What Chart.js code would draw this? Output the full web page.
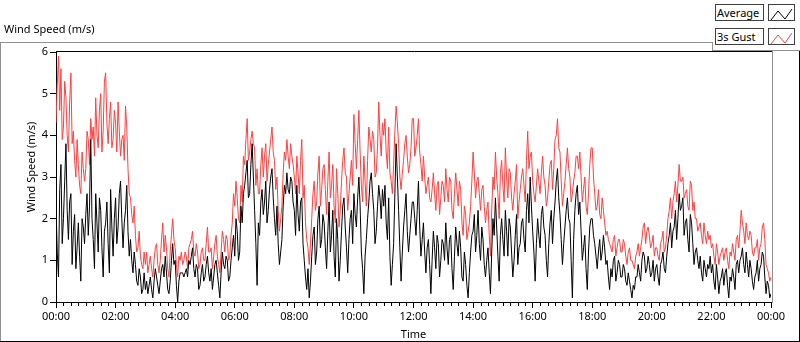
<!DOCTYPE html>
<html>
<head>
<meta charset="utf-8">
<script src="https://cdn.jsdelivr.net/npm/chart.js@4"></script>
<style>
  body { margin: 0; background: #fff; font-family: "Noto Sans", sans-serif; }
  #panel { position: relative; width: 800px; height: 342px; overflow: hidden; }
  #windChart { position: absolute; left: 0; top: 0; }
  .frame { position: absolute; }
  .title { position: absolute; left: 4px; top: 22px; font-size: 11px; line-height: 14px; color: #000; }
  .legend-text { position: absolute; left: 715px; width: 46px; height: 15px; border: 1px solid #404040;
    font-size: 11px; line-height: 15px; padding-left: 1px; color: #000; background: #fff; }
  .legend-icon { position: absolute; left: 768px; width: 25px; height: 15px; border: 1px solid #404040; background: #fff; }
</style>
</head>
<body>
<div id="panel">
  <canvas id="windChart" width="800" height="342"></canvas>
  <div class="title">Wind Speed (m/s)</div>
  <!-- outer panel lines -->
  <div class="frame" style="left:0;top:42px;width:712px;height:1px;background:#909090"></div>
  <div class="frame" style="left:0;top:42px;width:1px;height:300px;background:#909090"></div>
  <div class="frame" style="left:0;top:341px;width:800px;height:1px;background:#000"></div>
  <div class="frame" style="left:799px;top:50px;width:1px;height:292px;background:#000"></div>
  <div class="frame" style="left:712px;top:42px;width:1px;height:9px;background:#909090"></div>
  <div class="frame" style="left:712px;top:50px;width:88px;height:1px;background:#909090"></div>
  <!-- legend -->
  <div class="legend-text" style="top:4px">Average</div>
  <div class="legend-icon" style="top:4px">
    <svg width="25" height="15"><polyline points="2,13 9,4 16,12 23,2" fill="none" stroke="#000" stroke-width="1"/></svg>
  </div>
  <div class="legend-text" style="top:28px">3s Gust</div>
  <div class="legend-icon" style="top:28px">
    <svg width="25" height="15"><polyline points="2,13 9,4 16,12 23,2" fill="none" stroke="#ff4040" stroke-width="1"/></svg>
  </div>
</div>
<script>
// time axis: one sample every 2.5 minutes, 00:00 .. 24:00
const START_MINUTE = 0;
const STEP_MINUTES = 2.5;
const timeTicks = [0, 120, 240, 360, 480, 600, 720, 840, 960, 1080, 1200, 1320, 1440];
const tickLabels = ["00:00", "02:00", "04:00", "06:00", "08:00", "10:00", "12:00",
                    "14:00", "16:00", "18:00", "20:00", "22:00", "00:00"];
const speedTicks = [0, 1, 2, 3, 4, 5, 6];

// Average wind speed (m/s), one row per hour
const averageSpeed = [
  2.3, 1.2, 0.6, 2.7, 3.3, 1.4, 2.0, 2.9, 3.8, 2.2, 1.5, 2.4, 2.6, 0.9, 1.7, 2.1, 0.8, 1.3, 1.9, 1.1, 0.5, 2.0, 1.8, 1.4,
  2.1, 2.6, 1.6, 2.3, 3.9, 2.0, 1.5, 0.8, 2.6, 1.9, 1.2, 2.5, 2.2, 1.3, 0.6, 1.7, 1.9, 2.4, 1.4, 0.7, 2.7, 1.8, 1.1, 2.0,
  2.5, 1.4, 1.8, 2.6, 2.9, 2.0, 1.3, 1.9, 2.2, 2.8, 1.7, 1.1, 1.5, 1.0, 0.7, 1.2, 0.9, 0.5, 0.4, 0.8, 0.6, 0.2, 0.3, 0.7,
  0.3, 0.5, 0.2, 0.4, 0.6, 0.3, 0.1, 0.5, 0.8, 0.6, 0.4, 0.2, 0.5, 0.8, 0.9, 0.6, 1.1, 0.7, 0.3, 0.2, 0.5, 1.0, 1.4, 0.9,
  1.0, 0.4, 0.0, 0.5, 0.7, 0.7, 0.7, 0.6, 0.7, 0.8, 0.6, 1.0, 0.9, 1.1, 1.3, 0.8, 0.6, 0.9, 0.8, 0.3, 0.4, 0.7, 0.9, 0.5,
  0.6, 0.9, 1.1, 0.7, 0.5, 0.8, 0.3, 0.6, 0.9, 1.0, 0.7, 0.4, 0.1, 0.7, 1.2, 0.9, 0.8, 1.1, 1.0, 0.5, 0.6, 1.0, 1.3, 1.6,
  1.1, 2.0, 1.7, 1.0, 1.2, 2.3, 1.9, 2.6, 2.8, 3.1, 3.4, 2.5, 2.6, 3.3, 3.8, 3.0, 2.2, 1.4, 0.4, 1.9, 1.6, 2.4, 2.7, 2.1,
  2.4, 2.9, 1.9, 2.2, 2.7, 3.0, 3.2, 2.5, 2.0, 1.6, 2.3, 1.4, 0.9, 1.2, 1.5, 2.3, 2.8, 2.6, 3.1, 2.7, 2.6, 3.0, 2.9, 2.4,
  2.2, 1.6, 2.8, 2.1, 1.7, 2.4, 2.5, 1.4, 1.0, 0.6, 0.3, 0.8, 0.1, 0.5, 1.1, 1.6, 1.8, 0.9, 1.2, 2.0, 2.3, 1.3, 1.5, 2.1,
  1.9, 1.3, 0.8, 1.7, 2.4, 1.2, 1.6, 2.2, 1.1, 0.6, 2.0, 1.5, 0.5, 1.0, 1.7, 2.3, 2.5, 1.8, 1.3, 0.7, 1.5, 2.0, 2.2, 1.4,
  2.6, 2.1, 1.8, 2.5, 3.0, 2.3, 1.2, 0.8, 0.2, 1.1, 1.5, 2.0, 2.4, 2.9, 3.1, 2.6, 2.2, 1.4, 1.7, 2.3, 2.8, 2.5, 2.0, 2.7,
  2.3, 2.8, 1.9, 1.5, 2.5, 1.1, 0.4, 0.9, 1.4, 2.6, 3.8, 3.0, 2.2, 1.3, 0.5, 1.2, 1.8, 2.2, 2.6, 1.7, 1.2, 1.6, 2.0, 2.4,
  2.4, 2.0, 1.6, 2.2, 2.9, 1.8, 1.1, 1.5, 1.9, 1.2, 0.7, 1.3, 1.5, 0.9, 0.2, 1.0, 1.7, 1.3, 0.8, 1.6, 1.4, 0.6, 1.0, 1.5,
  1.4, 1.0, 1.9, 1.3, 0.9, 1.5, 1.6, 0.8, 0.3, 1.1, 1.8, 1.4, 1.1, 1.7, 1.3, 0.6, 0.5, 1.2, 0.9, 0.4, 0.1, 0.7, 1.2, 1.6,
  1.7, 2.1, 1.2, 1.6, 2.2, 1.4, 1.0, 1.8, 1.5, 0.9, 0.6, 1.0, 1.3, 0.7, 0.2, 1.2, 2.0, 1.6, 2.5, 1.8, 1.1, 0.5, 1.6, 2.0,
  1.5, 1.1, 2.2, 1.7, 1.1, 2.0, 1.8, 1.2, 0.6, 1.0, 1.6, 2.1, 0.9, 1.3, 1.4, 1.9, 2.0, 1.5, 1.2, 2.2, 2.6, 1.9, 3.0, 2.3,
  1.7, 1.2, 0.5, 1.4, 2.0, 1.6, 1.3, 2.1, 2.3, 1.8, 1.6, 1.0, 0.6, 1.4, 1.9, 2.2, 1.4, 2.0, 2.4, 2.9, 3.2, 2.5, 2.1, 1.5,
  0.9, 1.4, 1.8, 2.2, 2.5, 2.0, 1.9, 1.0, 0.1, 1.5, 2.2, 2.6, 2.8, 2.1, 2.4, 1.7, 1.0, 1.3, 1.6, 0.8, 0.3, 1.2, 1.8, 2.0,
  2.0, 1.6, 1.4, 1.1, 0.8, 1.2, 1.5, 1.0, 1.2, 1.6, 1.3, 0.9, 1.0, 0.6, 0.3, 0.8, 0.6, 1.0, 1.1, 0.5, 0.7, 1.0, 0.9, 0.6,
  0.6, 0.9, 0.8, 0.5, 0.4, 0.7, 0.5, 0.3, 0.1, 0.4, 0.3, 0.6, 0.6, 0.9, 0.7, 0.5, 1.0, 1.2, 1.1, 0.7, 0.8, 1.1, 0.9, 0.6,
  0.7, 1.0, 0.5, 0.8, 0.9, 0.6, 0.4, 0.9, 1.0, 1.2, 0.8, 0.7, 1.1, 1.4, 1.6, 1.9, 1.3, 1.7, 1.8, 2.2, 1.5, 2.0, 2.6, 2.2,
  2.3, 2.5, 1.6, 1.9, 2.0, 1.5, 1.2, 2.1, 1.9, 1.4, 0.9, 1.2, 1.3, 1.0, 0.8, 1.1, 0.7, 0.5, 1.0, 0.8, 0.6, 0.9, 0.8, 1.1,
  0.7, 0.9, 0.5, 0.3, 0.9, 0.6, 0.2, 0.5, 0.6, 0.8, 0.4, 0.7, 0.8, 0.4, 0.1, 0.6, 0.5, 0.8, 0.6, 0.3, 0.9, 1.0, 0.7, 1.0,
  1.1, 1.3, 0.9, 0.7, 1.2, 0.9, 0.6, 1.0, 0.8, 0.5, 0.3, 0.6, 0.7, 1.0, 0.5, 0.8, 0.9, 1.2, 1.1, 0.6, 0.2, 0.5, 0.4, 0.1,
  0.2
];

// 3 second gust (m/s), one row per hour
const gustSpeed = [
  4.3, 5.2, 5.9, 4.6, 5.6, 3.9, 4.2, 5.3, 4.9, 4.0, 3.6, 4.8, 5.5, 3.8, 4.1, 3.4, 3.0, 3.9, 3.3, 2.8, 2.6, 3.6, 3.2, 2.9,
  3.2, 4.1, 3.9, 3.3, 4.4, 3.9, 4.2, 3.5, 4.9, 4.0, 3.7, 4.6, 5.0, 3.6, 4.1, 5.3, 5.5, 4.3, 3.8, 4.4, 4.8, 3.7, 3.9, 4.6,
  4.3, 3.6, 4.8, 4.1, 3.5, 3.9, 4.0, 3.4, 4.7, 4.2, 3.2, 2.6, 2.5, 2.1, 1.9, 2.3, 1.6, 1.2, 1.3, 1.7, 1.1, 0.9, 0.8, 1.2,
  0.9, 1.2, 0.7, 0.9, 1.1, 0.8, 0.6, 1.0, 1.3, 1.4, 0.9, 0.7, 1.0, 1.5, 1.9, 1.2, 1.6, 1.3, 0.8, 0.6, 1.2, 1.6, 2.0, 1.5,
  1.3, 0.9, 0.6, 1.1, 1.0, 1.2, 0.9, 1.0, 1.2, 1.1, 0.8, 1.3, 1.4, 1.5, 1.7, 1.2, 1.1, 1.4, 1.2, 0.8, 0.9, 1.2, 1.3, 1.0,
  1.0, 1.4, 1.8, 1.2, 1.2, 1.3, 0.8, 1.1, 1.4, 1.6, 1.1, 0.9, 0.7, 1.2, 1.7, 1.5, 1.2, 1.6, 1.5, 1.0, 1.1, 1.6, 1.9, 2.6,
  2.3, 2.9, 2.5, 2.0, 1.9, 2.8, 2.4, 3.5, 3.3, 3.9, 4.4, 3.4, 3.6, 3.9, 4.1, 3.8, 3.7, 2.8, 3.2, 2.6, 2.6, 3.3, 3.7, 3.0,
  3.5, 3.8, 2.9, 3.3, 3.6, 3.9, 4.2, 3.6, 3.4, 2.7, 3.0, 2.2, 1.7, 2.0, 2.3, 3.1, 3.6, 3.4, 3.9, 3.5, 3.2, 3.8, 3.5, 3.3,
  3.0, 2.6, 3.5, 3.1, 2.6, 3.4, 3.9, 2.5, 2.8, 1.9, 1.5, 1.3, 0.9, 1.4, 2.0, 2.6, 2.9, 2.2, 2.4, 3.1, 3.5, 2.3, 2.7, 3.2,
  3.3, 2.7, 2.1, 2.9, 3.6, 2.5, 2.8, 3.3, 2.3, 1.9, 3.2, 2.6, 1.8, 2.2, 2.9, 3.4, 3.7, 3.1, 3.0, 2.2, 2.6, 3.0, 3.4, 2.8,
  4.5, 3.8, 3.2, 3.9, 4.6, 3.6, 2.8, 2.4, 3.5, 2.9, 2.3, 3.4, 4.2, 3.9, 3.6, 4.1, 3.9, 3.0, 3.1, 3.7, 4.8, 4.0, 3.5, 4.3,
  4.0, 4.4, 3.6, 3.2, 4.2, 3.1, 2.9, 2.6, 3.3, 4.1, 4.7, 4.3, 3.8, 3.0, 2.7, 3.1, 3.4, 3.8, 4.0, 3.5, 3.1, 3.3, 3.7, 4.4,
  4.4, 3.5, 3.7, 4.0, 4.4, 3.6, 3.3, 2.9, 3.5, 3.0, 2.6, 2.8, 3.0, 2.5, 2.4, 2.7, 3.1, 2.6, 2.2, 2.8, 2.9, 2.1, 2.5, 2.9,
  2.8, 2.4, 3.2, 2.7, 2.4, 3.0, 2.9, 2.2, 2.0, 2.6, 3.1, 2.7, 2.3, 2.9, 2.7, 1.9, 1.6, 2.3, 2.1, 1.5, 1.7, 1.9, 2.3, 2.9,
  3.6, 3.1, 2.5, 2.9, 3.0, 2.6, 2.2, 2.7, 2.8, 2.3, 1.9, 2.2, 2.4, 1.6, 1.1, 2.2, 3.0, 2.7, 3.6, 3.0, 2.6, 2.0, 3.1, 3.4,
  2.8, 2.4, 3.7, 3.0, 2.5, 3.2, 3.1, 2.5, 2.2, 2.6, 2.9, 3.3, 2.0, 2.4, 2.7, 3.0, 3.2, 2.8, 2.4, 3.4, 4.1, 3.2, 3.5, 3.6,
  2.9, 2.6, 2.4, 2.8, 3.2, 2.9, 2.6, 3.1, 3.5, 3.0, 2.8, 2.3, 2.5, 2.9, 3.3, 3.4, 2.7, 3.2, 3.9, 4.0, 4.4, 3.7, 3.6, 2.9,
  2.3, 2.6, 2.9, 3.3, 3.7, 3.2, 3.0, 2.4, 2.6, 2.9, 3.1, 3.5, 3.5, 3.2, 3.6, 3.0, 2.4, 2.7, 3.0, 2.3, 2.1, 2.6, 3.3, 3.7,
  3.7, 3.0, 2.6, 2.2, 2.3, 2.7, 2.1, 2.0, 2.5, 2.2, 1.9, 1.6, 1.7, 1.5, 1.4, 1.3, 1.2, 1.5, 1.6, 1.1, 1.3, 1.5, 1.5, 1.2,
  1.2, 1.5, 1.4, 1.1, 0.9, 1.2, 1.3, 1.0, 1.0, 0.9, 0.8, 1.1, 1.2, 1.4, 1.1, 1.3, 1.5, 1.8, 1.9, 1.4, 1.7, 1.8, 1.6, 1.3,
  1.4, 1.6, 1.1, 1.3, 1.3, 1.1, 1.0, 1.4, 1.5, 1.7, 1.2, 1.3, 1.6, 2.0, 2.2, 2.5, 2.0, 2.4, 2.6, 2.9, 2.4, 2.8, 3.3, 2.9,
  2.9, 3.0, 2.5, 2.6, 2.7, 2.3, 2.2, 2.9, 2.8, 2.2, 2.4, 2.0, 2.0, 1.7, 1.8, 1.9, 1.6, 1.4, 1.9, 1.6, 1.4, 1.7, 1.5, 1.6,
  1.3, 1.4, 1.1, 0.9, 1.4, 1.2, 0.9, 1.1, 1.2, 1.3, 1.0, 1.2, 1.3, 1.0, 0.8, 1.2, 1.1, 1.4, 1.2, 1.0, 1.5, 1.6, 1.3, 1.7,
  2.2, 1.9, 1.7, 1.4, 1.9, 1.6, 1.5, 1.7, 1.6, 1.2, 1.1, 1.3, 1.3, 1.5, 1.0, 1.3, 1.4, 1.8, 1.9, 1.5, 0.9, 0.8, 0.7, 0.5,
  0.6
];

const FONT = { family: "'Noto Sans', sans-serif", size: 11 };

function toPoints(values) {
  return values.map((v, i) => ({ x: START_MINUTE + i * STEP_MINUTES, y: v }));
}

// plot frame (black top, grey right), minor time ticks and rotated y title
const framePlugin = {
  id: "frame",
  afterDraw(chart) {
    const { ctx, chartArea, scales } = chart;
    ctx.save();
    ctx.lineWidth = 1;
    ctx.strokeStyle = "#000";
    ctx.beginPath();
    ctx.moveTo(chartArea.left, chartArea.top - 0.5);
    ctx.lineTo(chartArea.right + 2, chartArea.top - 0.5);
    ctx.stroke();
    ctx.strokeStyle = "#909090";
    ctx.beginPath();
    ctx.moveTo(chartArea.right + 1.5, chartArea.top - 1);
    ctx.lineTo(chartArea.right + 1.5, chartArea.bottom + 1);
    ctx.stroke();

    // minor ticks every 15 minutes
    ctx.strokeStyle = "#000";
    ctx.beginPath();
    for (let m = 15; m < 1440; m += 15) {
      if (m % 120 === 0) continue;
      const x = Math.round(scales.x.getPixelForValue(m)) + 0.5;
      ctx.moveTo(x, chartArea.bottom);
      ctx.lineTo(x, chartArea.bottom + 4);
    }
    ctx.stroke();

    ctx.translate(32, 167);
    ctx.rotate(-Math.PI / 2);
    ctx.fillStyle = "#000";
    ctx.font = "11px 'Noto Sans', sans-serif";
    ctx.textAlign = "center";
    ctx.textBaseline = "middle";
    ctx.fillText("Wind Speed (m/s)", 0, 0);
    ctx.restore();
  }
};

new Chart(document.getElementById("windChart"), {
  type: "line",
  data: {
    datasets: [
      {
        label: "Average",
        data: toPoints(averageSpeed),
        borderColor: "#000",
        borderWidth: 1,
        pointRadius: 0,
        tension: 0
      },
      {
        label: "3s Gust",
        data: toPoints(gustSpeed),
        borderColor: "#ff4040",
        borderWidth: 1,
        pointRadius: 0,
        tension: 0
      }
    ]
  },
  options: {
    responsive: false,
    animation: false,
    devicePixelRatio: 1,
    layout: { padding: { top: 52, right: 29, left: 0, bottom: 0 } },
    plugins: {
      legend: { display: false },
      tooltip: { enabled: false }
    },
    scales: {
      x: {
        type: "linear",
        min: 0,
        max: 1440,
        afterFit: (s) => { s.height = 40; },
        afterBuildTicks: (s) => { s.ticks = timeTicks.map((v) => ({ value: v })); },
        ticks: {
          font: FONT,
          color: "#000",
          padding: 2,
          maxRotation: 0,
          callback: (v) => tickLabels[timeTicks.indexOf(v)]
        },
        grid: { drawOnChartArea: false, tickLength: 6, color: "#000" },
        border: { color: "#000" },
        title: { display: true, text: "Time", font: FONT, color: "#000", padding: { top: 0, bottom: 1 } }
      },
      y: {
        min: 0,
        max: 6,
        afterFit: (s) => { s.width = 56; },
        afterBuildTicks: (s) => { s.ticks = speedTicks.map((v) => ({ value: v })); },
        ticks: { font: FONT, color: "#000", padding: 2 },
        grid: { drawOnChartArea: false, tickLength: 6, color: "#000" },
        border: { color: "#000" }
      }
    }
  },
  plugins: [framePlugin]
});
</script>
</body>
</html>
